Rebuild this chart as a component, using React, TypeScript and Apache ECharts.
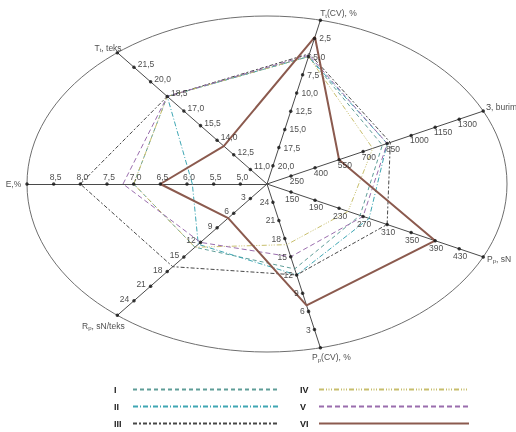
import React, { useEffect, useRef } from 'react';
import * as echarts from 'echarts';

// ---- axes (order: clockwise starting from the left horizontal axis) ----
const axisNames = ['E,%', 'Tt, teks', 'Tt(CV), %', 'З, burim', 'Pp, sN', 'Pp(CV), %', 'Rp, sN/teks'];
const axisNameRich = [
  '{n|E,%}',
  '{n|T}{s|t}{n|, teks}',
  '{n|T}{s|t}{n|(CV), %}',
  '{n|З, burim}',
  '{n|P}{s|p}{n|, sN}',
  '{n|P}{s|p}{n|(CV), %}',
  '{n|R}{s|p}{n|, sN/teks}',
];
const axisInner = [4.5, 9.5, 22.5, 100, 110, 27, 0];
const axisOuter = [9.0, 23.0, 0, 1450, 470, 0, 27];
const tickDecimals = [1, 1, 1, 0, 0, 0, 0];

const ticksE = [5.0, 5.5, 6.0, 6.5, 7.0, 7.5, 8.0, 8.5];
const ticksTt = [11.0, 12.5, 14.0, 15.5, 17.0, 18.5, 20.0, 21.5];
const ticksTtCV = [20.0, 17.5, 15.0, 12.5, 10.0, 7.5, 5.0, 2.5];
const ticksZ = [250, 400, 550, 700, 850, 1000, 1150, 1300];
const ticksPp = [150, 190, 230, 270, 310, 350, 390, 430];
const ticksPpCV = [24, 21, 18, 15, 12, 9, 6, 3];
const ticksRp = [3, 6, 9, 12, 15, 18, 21, 24];
const axisTicks = [ticksE, ticksTt, ticksTtCV, ticksZ, ticksPp, ticksPpCV, ticksRp];

// ---- series values (same axis order) ----
const seriesNames = ['I', 'II', 'III', 'IV', 'V', 'VI'];
const valuesI = [7.0, 18.5, 5.0, 820, 265, 13, 13];
const valuesII = [5.9, 18.5, 5.0, 850, 280, 12, 12.4];
const valuesIII = [8.0, 18.5, 4.6, 870, 310, 12, 17];
const valuesIV = [7.0, 18.5, 5.0, 760, 245, 17, 13];
const valuesV = [7.2, 18.5, 4.8, 850, 270, 15, 12];
const valuesVI = [6.5, 13.4, 2.3, 550, 390, 7, 7];
const seriesValues = [valuesI, valuesII, valuesIII, valuesIV, valuesV, valuesVI];

// ---- styles ----
const FONT = 'Liberation Sans, Arial, sans-serif';
const seriesColors = ['#5f9d98', '#3ea6b3', '#474747', '#c7be6c', '#9a6dad', '#8b5a4e'];
const seriesDash: any[] = [[4, 3], [5, 2, 1, 2], [4, 2, 2, 2], [5, 2, 1, 1.5, 1, 1.5, 1, 2], [5, 3], 'solid'];
const seriesWidth = [1, 1, 1, 1, 1, 2];

const tickLabelCfg: any[] = [
  { position: 'top', distance: 1, offset: [2, 0] },
  { position: 'right', distance: 2, offset: [0, -3] },
  { position: 'right', distance: 3, offset: [0, 0] },
  { position: 'right', distance: -3, offset: [0, 5] },
  { position: 'bottom', distance: 1, offset: [1, 0] },
  { position: 'left', distance: 2, offset: [0, 0] },
  { position: 'left', distance: 3, offset: [0, -2] },
];
const nameLabelCfg: any[] = [
  { position: 'left', distance: 4, offset: [0, 0] },
  { position: 'left', distance: -6, offset: [0, -5] },
  { position: 'right', distance: -2, offset: [0, -7] },
  { position: 'right', distance: 1, offset: [0, -4] },
  { position: 'right', distance: 2, offset: [0, 2] },
  { position: 'bottom', distance: 2, offset: [11, 0] },
  { position: 'bottom', distance: 3, offset: [-14, 0] },
];

const N = axisNames.length;
const angleOf = (k: number) => Math.PI - (k * 2 * Math.PI) / N;
const pos = (k: number, v: number) => {
  const r = (v - axisInner[k]) / (axisOuter[k] - axisInner[k]);
  const t = angleOf(k);
  return [r * Math.cos(t), r * Math.sin(t)];
};
const fmt = (v: number, d: number) => (d ? v.toFixed(d).replace('.', ',') : String(v));

export default function App() {
  const ref = useRef<HTMLDivElement>(null);
  useEffect(() => {
    if (!ref.current) return;
    const chart = echarts.init(ref.current, undefined, { renderer: 'svg' });

    const axisLines = axisNames.map((_, k) => ({ coords: [[0, 0], pos(k, axisOuter[k])] }));

    const tickData: any[] = [];
    axisTicks.forEach((ticks, k) => {
      ticks.forEach((v) => {
        tickData.push({
          value: pos(k, v),
          label: {
            show: true,
            formatter: fmt(v, tickDecimals[k]),
            ...tickLabelCfg[k],
          },
        });
      });
      tickData.push({
        value: pos(k, axisOuter[k]),
        label: {
          show: true,
          formatter: axisNameRich[k],
          ...nameLabelCfg[k],
          rich: {
            n: { fontSize: 8.5, fontFamily: FONT, color: '#1a1a1a', lineHeight: 11, verticalAlign: 'middle' },
            s: { fontSize: 6, fontFamily: FONT, color: '#1a1a1a', lineHeight: 11, verticalAlign: 'bottom', padding: [4, 0, 0, 0] },
          },
        },
      });
    });

    const dataSeries = seriesNames.map((name, i) => {
      const pts = seriesValues[i].map((v, k) => pos(k, v));
      pts.push(pts[0]);
      return {
        name,
        type: 'line',
        data: pts,
        symbol: 'none',
        silent: true,
        z: i === 5 ? 4 : 3,
        color: seriesColors[i],
        lineStyle: { color: seriesColors[i], width: seriesWidth[i], type: seriesDash[i] },
      };
    });

    const legendCommon = {
      orient: 'vertical',
      align: 'right',
      itemHeight: 8,
      itemGap: 8,
      top: 385,
      height: 80,
      padding: 0,
      selectedMode: false,
      formatter: '{a|{name}}',
      itemStyle: { opacity: 0, borderWidth: 0 },
      textStyle: {
        rich: { a: { width: 14, align: 'left', fontSize: 9, fontWeight: 'bold', color: '#222', fontFamily: FONT, lineHeight: 11 } },
      },
    };

    chart.setOption({
      animation: false,
      grid: { left: 27, right: 9, top: 16, bottom: 80, containLabel: false },
      xAxis: { type: 'value', min: -1, max: 1, show: false },
      yAxis: { type: 'value', min: -1, max: 1, show: false },
      legend: [
        { ...legendCommon, data: ['I', 'II', 'III'], left: 114, itemWidth: 145 },
        { ...legendCommon, data: ['IV', 'V', 'VI'], left: 300, itemWidth: 150 },
      ],
      series: [
        {
          type: 'lines',
          coordinateSystem: 'cartesian2d',
          data: axisLines,
          silent: true,
          z: 1,
          lineStyle: { color: '#4a4a4a', width: 1, opacity: 1 },
        },
        ...dataSeries,
        {
          type: 'scatter',
          data: tickData,
          symbol: 'circle',
          symbolSize: 3.5,
          silent: true,
          z: 5,
          itemStyle: { color: '#111' },
          label: { fontSize: 8.5, fontFamily: FONT, color: '#1a1a1a' },
        },
      ],
    });

    const c = chart.convertToPixel({ gridIndex: 0 }, [0, 0]) as number[];
    const e = chart.convertToPixel({ gridIndex: 0 }, [1, 1]) as number[];
    chart.setOption({
      graphic: [
        {
          type: 'ellipse',
          silent: true,
          z: 0,
          shape: { cx: c[0], cy: c[1], rx: e[0] - c[0], ry: c[1] - e[1] },
          style: { fill: 'none', stroke: '#6e6e6e', lineWidth: 1 },
        },
      ],
    });

    return () => chart.dispose();
  }, []);
  return <div ref={ref} style={{ position: 'fixed', left: 0, top: 0, width: 516, height: 432 }} />;
}
